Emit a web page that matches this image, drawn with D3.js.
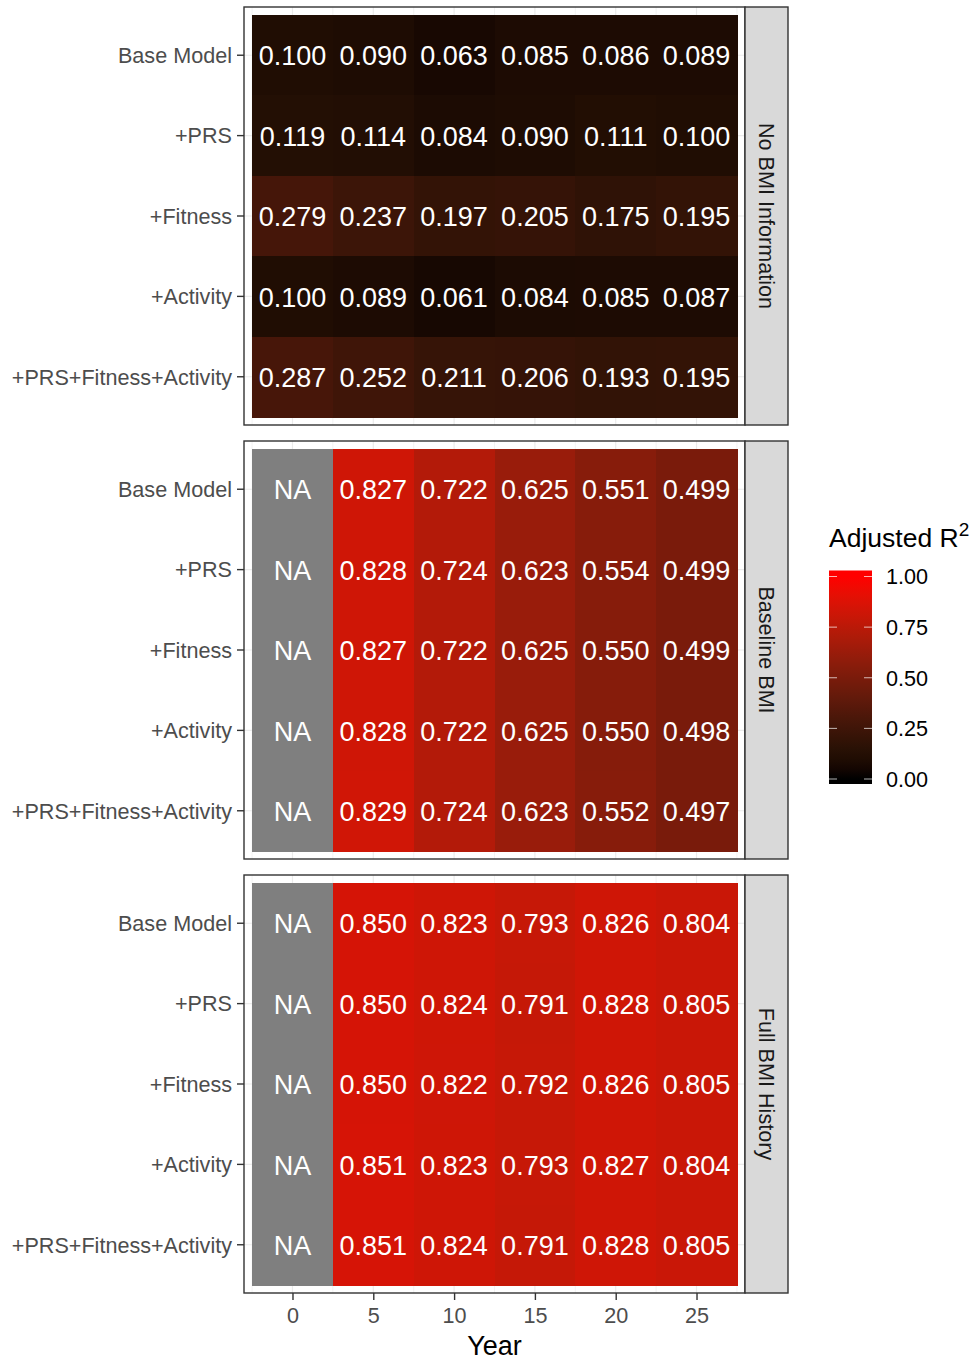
<!DOCTYPE html>
<html><head><meta charset="utf-8">
<script src="https://cdn.jsdelivr.net/npm/d3@7"></script>
<style>
html,body{margin:0;padding:0;background:#fff;}
text{font-family:"Liberation Sans",Arial,sans-serif;}
</style></head>
<body>
<svg id="chart" width="979" height="1364"></svg>
<script>
const rows = ["Base Model","+PRS","+Fitness","+Activity","+PRS+Fitness+Activity"];
const years = [0,5,10,15,20,25];
const panelNames = ["No BMI Information","Baseline BMI","Full BMI History"];
const noBMI = [
  [0.100,0.090,0.063,0.085,0.086,0.089],
  [0.119,0.114,0.084,0.090,0.111,0.100],
  [0.279,0.237,0.197,0.205,0.175,0.195],
  [0.100,0.089,0.061,0.084,0.085,0.087],
  [0.287,0.252,0.211,0.206,0.193,0.195]
];
const baselineBMI = [
  [null,0.827,0.722,0.625,0.551,0.499],
  [null,0.828,0.724,0.623,0.554,0.499],
  [null,0.827,0.722,0.625,0.550,0.499],
  [null,0.828,0.722,0.625,0.550,0.498],
  [null,0.829,0.724,0.623,0.552,0.497]
];
const fullBMI = [
  [null,0.850,0.823,0.793,0.826,0.804],
  [null,0.850,0.824,0.791,0.828,0.805],
  [null,0.850,0.822,0.792,0.826,0.805],
  [null,0.851,0.823,0.793,0.827,0.804],
  [null,0.851,0.824,0.791,0.828,0.805]
];
const legendTicks = [0,0.25,0.5,0.75,1];
const panelValues = [noBMI, baselineBMI, fullBMI];

const svg = d3.select("#chart");
const panelLeft = 244, panelRight = 745, stripRight = 788;
const panelTops = [7, 441, 875], panelH = 418;
const x = d3.scaleLinear().domain([-3, 28]).range([panelLeft, panelRight]);
const tileW = x(5) - x(0);
const color = v => v == null ? "#7f7f7f" : d3.interpolateLab("#000000", "#ff0000")(Math.max(0, Math.min(1, v)));

panelNames.forEach((name, pi) => {
  const top = panelTops[pi];
  const y = d3.scaleLinear().domain([0.4, 5.6]).range([top, top + panelH]);
  const g = svg.append("g");
  g.append("rect").attr("x", panelLeft).attr("y", top).attr("width", panelRight - panelLeft).attr("height", panelH).attr("fill", "#fff");
  const minorX = [-2.5, 2.5, 7.5, 12.5, 17.5, 22.5, 27.5];
  g.selectAll(".gmx").data(minorX).join("line").attr("x1", d => x(d)).attr("x2", d => x(d)).attr("y1", top).attr("y2", top + panelH).attr("stroke", "#ebebeb").attr("stroke-width", 0.6);
  g.selectAll(".gx").data(years).join("line").attr("x1", d => x(d)).attr("x2", d => x(d)).attr("y1", top).attr("y2", top + panelH).attr("stroke", "#ebebeb").attr("stroke-width", 1.2);
  g.selectAll(".gy").data(rows).join("line").attr("x1", panelLeft).attr("x2", panelRight).attr("y1", (d, i) => y(i + 1)).attr("y2", (d, i) => y(i + 1)).attr("stroke", "#ebebeb").attr("stroke-width", 1.2);
  const cells = [];
  rows.forEach((r, ri) => years.forEach((yr, ci) => cells.push({ri, yr, v: panelValues[pi][ri][ci]})));
  g.selectAll("rect.tile").data(cells).join("rect").attr("class", "tile")
    .attr("x", d => x(d.yr - 2.5)).attr("width", tileW + 0.6)
    .attr("y", d => y(d.ri + 0.5)).attr("height", y(1.5) - y(0.5) + 0.6)
    .attr("shape-rendering", "crispEdges")
    .attr("fill", d => color(d.v));
  g.selectAll("text.lab").data(cells).join("text").attr("class", "lab")
    .attr("x", d => x(d.yr)).attr("y", d => y(d.ri + 1)).attr("dy", "0.38em")
    .attr("text-anchor", "middle").attr("fill", "#fff").attr("font-size", 27)
    .text(d => d.v == null ? "NA" : d3.format(".3f")(d.v));
  g.append("rect").attr("x", panelLeft).attr("y", top).attr("width", panelRight - panelLeft).attr("height", panelH).attr("fill", "none").attr("stroke", "#333333").attr("stroke-width", 1.4);
  const yAxis = g.append("g");
  rows.forEach((r, ri) => {
    yAxis.append("line").attr("x1", panelLeft - 7).attr("x2", panelLeft).attr("y1", y(ri + 1)).attr("y2", y(ri + 1)).attr("stroke", "#333333").attr("stroke-width", 1.4);
    yAxis.append("text").attr("x", panelLeft - 12).attr("y", y(ri + 1)).attr("dy", "0.36em").attr("text-anchor", "end").attr("fill", "#4d4d4d").attr("font-size", 21.6).text(r);
  });
  g.append("rect").attr("x", panelRight).attr("y", top).attr("width", stripRight - panelRight).attr("height", panelH).attr("fill", "#d9d9d9").attr("stroke", "#333333").attr("stroke-width", 1.4);
  const sx = (panelRight + stripRight) / 2, sy = top + panelH / 2;
  g.append("text").attr("transform", `translate(${sx},${sy}) rotate(90)`).attr("text-anchor", "middle").attr("dy", "0.36em").attr("fill", "#1a1a1a").attr("font-size", 21.6).text(name);
});

const bottom = panelTops[2] + panelH;
const xAxisG = svg.append("g").attr("transform", `translate(0,${bottom})`);
const xa = d3.axisBottom(x).tickValues(years).tickSize(7).tickPadding(8).tickFormat(d3.format("d"));
xAxisG.call(xa);
xAxisG.select(".domain").remove();
xAxisG.selectAll(".tick line").attr("stroke", "#333333").attr("stroke-width", 1.4);
xAxisG.selectAll(".tick text").attr("fill", "#4d4d4d").attr("font-size", 21.6).attr("font-family", "Liberation Sans, Arial, sans-serif");
svg.append("text").attr("x", (panelLeft + panelRight) / 2).attr("y", 1355).attr("text-anchor", "middle").attr("font-size", 27).attr("fill", "#000").text("Year");

const legX = 829, legW = 43;
const ly = d3.scaleLinear().domain([0, 1]).range([779, 576.5]);
const defs = svg.append("defs");
const grad = defs.append("linearGradient").attr("id", "lg").attr("gradientUnits", "userSpaceOnUse")
  .attr("x1", 0).attr("x2", 0).attr("y1", ly(0)).attr("y2", ly(1));
d3.range(0, 1.0001, 0.05).forEach(t => grad.append("stop").attr("offset", t).attr("stop-color", color(t)));
const barTop = ly(1) - 6, barBot = ly(0) + 5;
svg.append("rect").attr("x", legX).attr("y", barTop).attr("width", legW).attr("height", barBot - barTop).attr("fill", "url(#lg)");
legendTicks.forEach(t => {
  svg.append("line").attr("x1", legX).attr("x2", legX + 8).attr("y1", ly(t)).attr("y2", ly(t)).attr("stroke", "#fff").attr("stroke-opacity", 0.7).attr("stroke-width", 1);
  svg.append("line").attr("x1", legX + legW - 8).attr("x2", legX + legW).attr("y1", ly(t)).attr("y2", ly(t)).attr("stroke", "#fff").attr("stroke-opacity", 0.7).attr("stroke-width", 1);
  svg.append("text").attr("x", legX + legW + 14).attr("y", ly(t)).attr("dy", "0.36em").attr("font-size", 21.6).attr("fill", "#000").text(d3.format(".2f")(t));
});
const title = svg.append("text").attr("x", legX).attr("y", 547).attr("font-size", 26.5).attr("fill", "#000");
title.append("tspan").text("Adjusted R");
title.append("tspan").attr("dy", -11).attr("font-size", 19).text("2");
</script>
</body></html>
